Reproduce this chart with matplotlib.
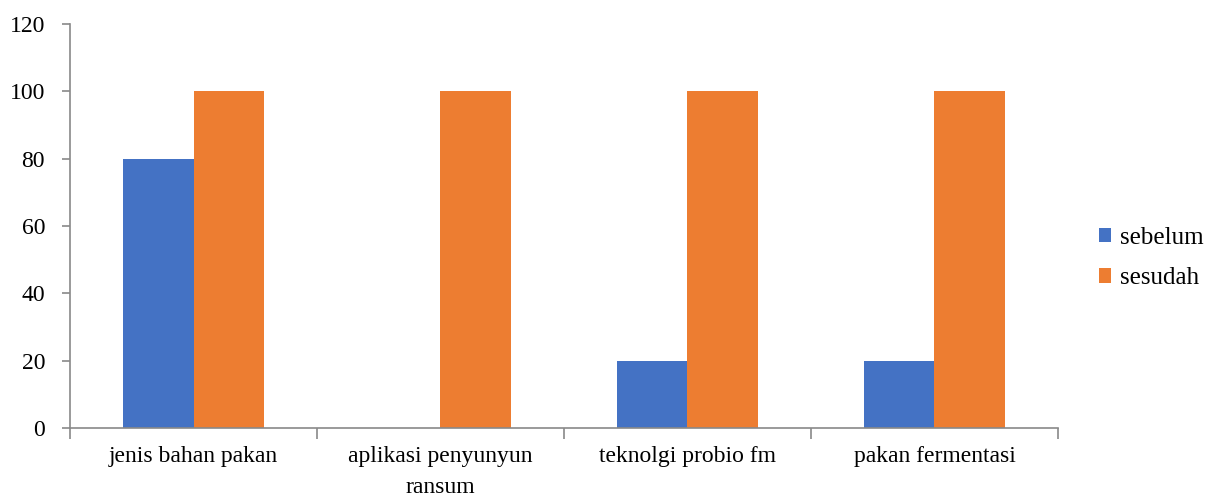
import matplotlib.pyplot as plt
import numpy as np

# Category labels and the two survey series
categories = ['jenis bahan pakan', 'aplikasi penyunyun\nransum', 'teknolgi probio fm', 'pakan fermentasi']
sebelum = [80, 0, 20, 20]
sesudah = [100, 100, 100, 100]

plt.rcParams['font.family'] = ['Liberation Serif', 'DejaVu Serif']

fig = plt.figure(figsize=(12.09, 4.96), dpi=100)
ax = fig.add_axes([0.0579, 0.1371, 0.8172, 0.8145])

x = np.arange(len(categories))
w = 0.285
b1 = ax.bar(x - w / 2, sebelum, w, color='#4472C4', label='sebelum')
b2 = ax.bar(x + w / 2, sesudah, w, color='#ED7D31', label='sesudah')

ax.set_xlim(-0.5, len(categories) - 0.5)
ax.set_ylim(0, 120)
ax.set_yticks(range(0, 121, 20))

# category labels centred, tick marks on the boundaries
ax.set_xticks(x)
ax.set_xticklabels(categories, fontsize=17, linespacing=1.6, va='top')
ax.set_xticks(np.arange(-0.5, len(categories)), minor=True)
ax.tick_params(axis='x', which='major', length=0, pad=13)
ax.tick_params(axis='x', which='minor', length=8, color='#898989', width=1.2)
ax.tick_params(axis='y', length=6, color='#898989', width=1.2, labelsize=17, pad=12)

for side in ['top', 'right']:
    ax.spines[side].set_visible(False)
for side in ['left', 'bottom']:
    ax.spines[side].set_color('#898989')
    ax.spines[side].set_linewidth(1.2)

fig.legend(handles=[b1, b2], loc='center left', bbox_to_anchor=(0.909, 0.48),
           frameon=False, fontsize=18, handlelength=0.5, handleheight=0.5,
           handletextpad=0.35, labelspacing=0.75, borderpad=0, borderaxespad=0)

fig.savefig('out.png', dpi=100)
